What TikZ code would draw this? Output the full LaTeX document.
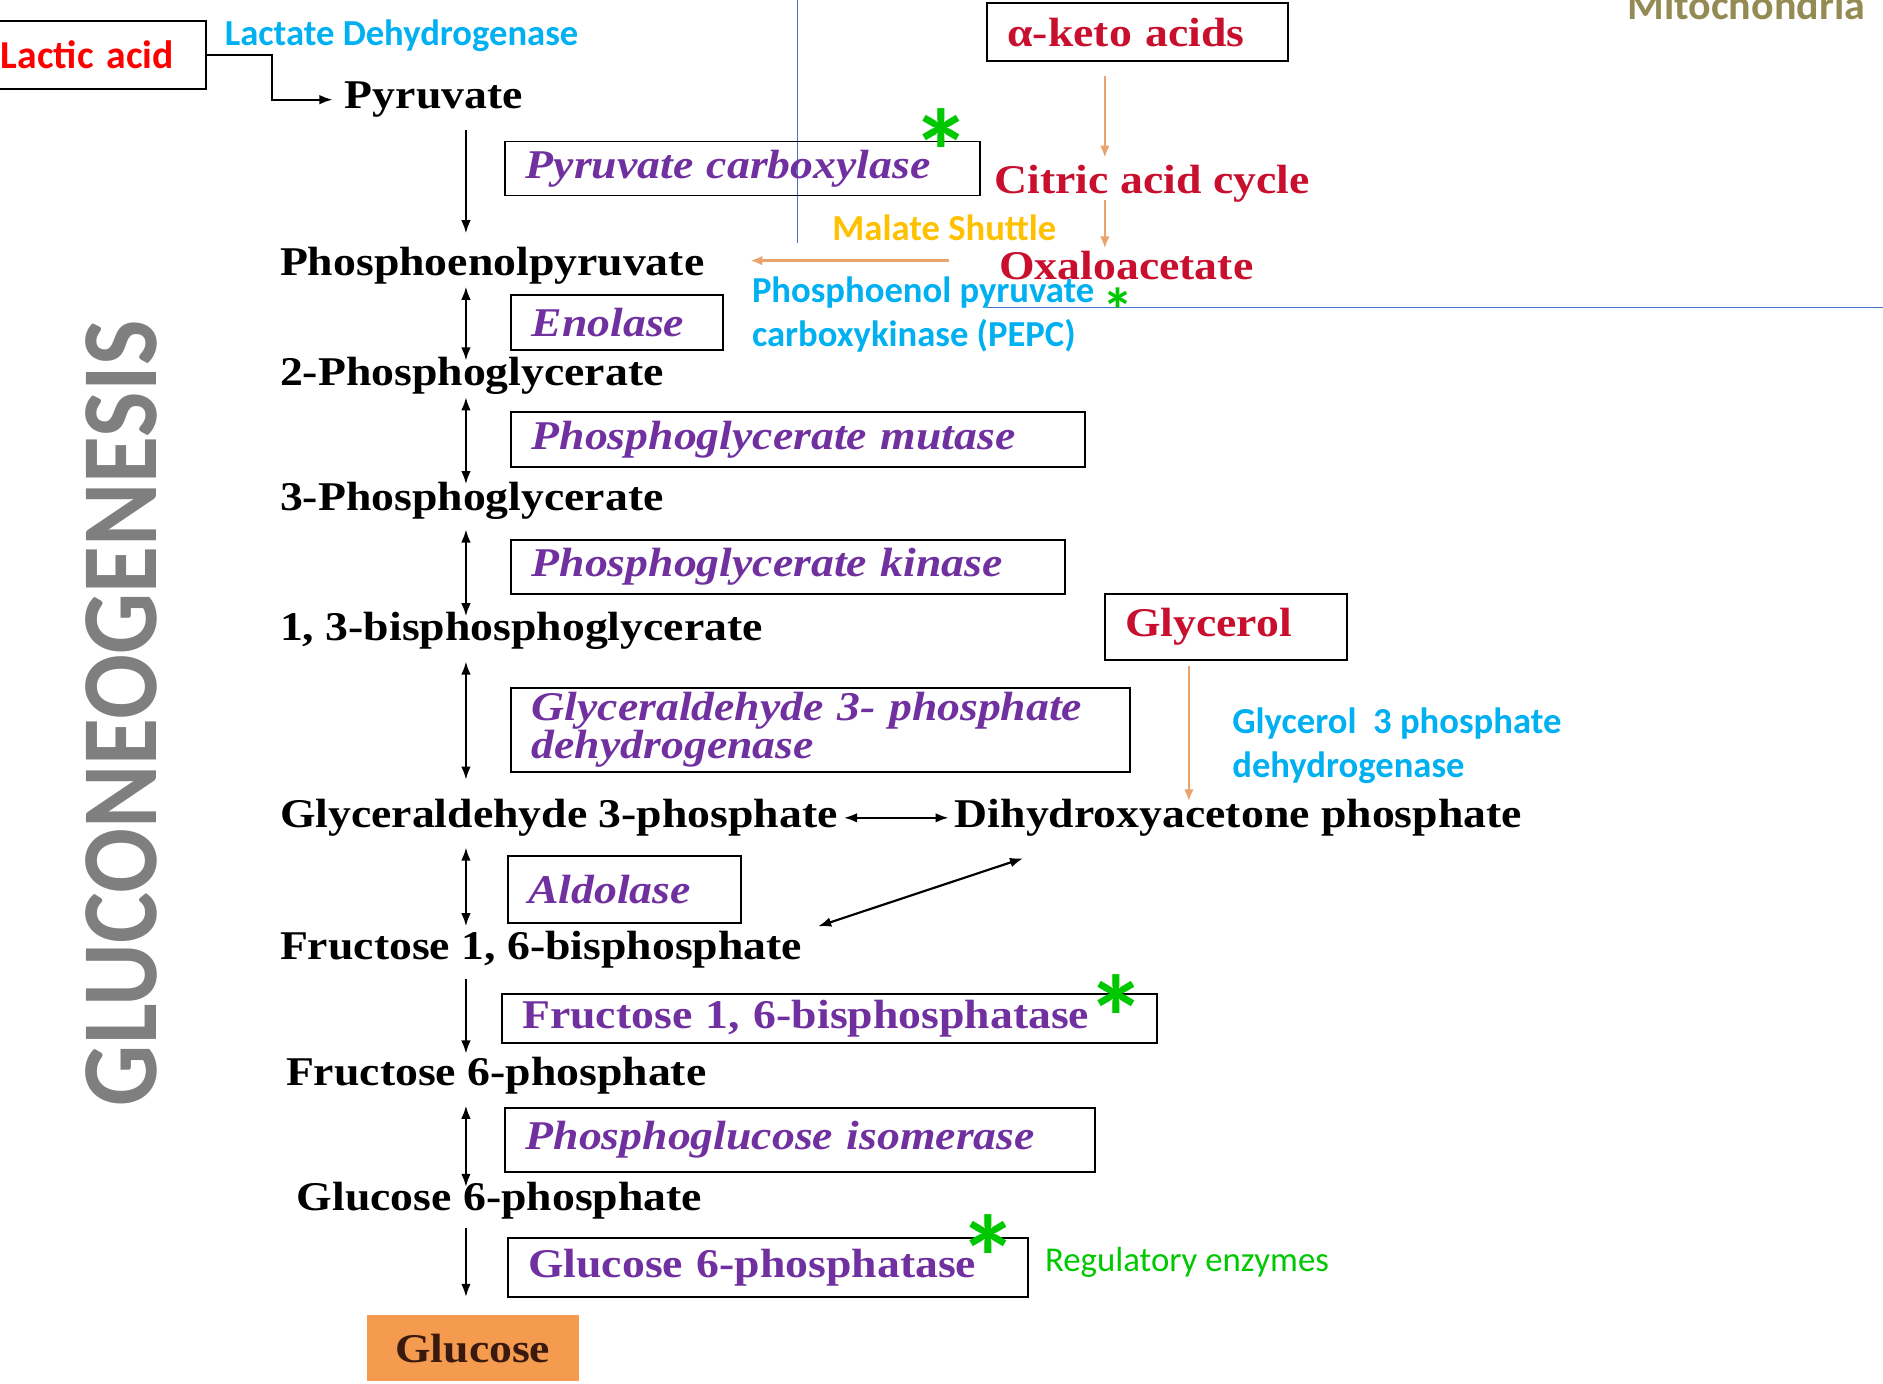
\documentclass[tikz,border=0pt]{standalone}
\usepackage{graphicx}
\usepackage{fontspec}
\usepackage{tikz}
\usetikzlibrary{arrows.meta,positioning,calc}
\setmainfont{Liberation Serif}[FakeStretch=1.12]
\newfontfamily\calfont{Carlito}
\definecolor{enzpurple}{HTML}{7030A0}
\definecolor{deepred}{HTML}{C8102E}
\definecolor{skyblue}{HTML}{00B0F0}
\definecolor{shuttle}{HTML}{FFC000}
\definecolor{reggreen}{HTML}{00C800}
\definecolor{mitoolive}{HTML}{948A54}
\definecolor{titlegray}{HTML}{7F7F7F}
\definecolor{membrane}{HTML}{4472C4}
\definecolor{feedorange}{HTML}{E9A36E}
\definecolor{glucfill}{HTML}{F59B4F}
\definecolor{glucink}{HTML}{3A1A0E}
\tikzset{
  metab/.style={anchor=west, inner sep=2pt,
    font=\bfseries\fontsize{34}{36}\selectfont},
  enzbox/.style={draw, line width=1.6pt, anchor=north west, align=left,
    inner xsep=17pt, inner ysep=0pt, text=enzpurple,
    font=\bfseries\itshape\fontsize{34}{30}\selectfont},
  enzup/.style={enzbox, font=\bfseries\fontsize{34}{30}\selectfont},
  srcbox/.style={draw, line width=1.6pt, anchor=north west, align=left,
    inner xsep=17pt, inner ysep=0pt, text=deepred,
    font=\bfseries\fontsize{34}{36}\selectfont},
  redlabel/.style={anchor=west, inner sep=2pt, text=deepred,
    font=\bfseries\fontsize{34}{36}\selectfont},
  note/.style={anchor=west, align=left, inner sep=0pt,
    font=\calfont\bfseries\fontsize{30.5}{36}\selectfont},
  regstar/.style={text=reggreen, inner sep=0pt,
    font=\calfont\bfseries\fontsize{100}{100}\selectfont},
  arr/.style={-{Latex[length=11pt,width=8pt]}, line width=1.8pt},
  dbl/.style={{Latex[length=11pt,width=8pt]}-{Latex[length=11pt,width=8pt]}, line width=1.8pt},
  oarr/.style={-{Latex[length=10pt,width=8pt]}, draw=feedorange, line width=2.1pt},
  membrane line/.style={draw=membrane, line width=1.4pt}
}
\begin{document}
\begin{tikzpicture}[x=1pt,y=-1pt]
\useasboundingbox (0,0) rectangle (1568,1152);

% side title
\node[rotate=90, text=titlegray, inner sep=0pt,
  font=\calfont\bfseries\fontsize{90}{90}\selectfont] (title) at (101,594)
  {\scalebox{0.89}[1]{GLUCONEOGENESIS}};

% mitochondrial boundary
\coordinate (memtop) at (664,0);
\coordinate (memcorner) at (664,202);
\coordinate (memleft) at (822,256);
\coordinate (memright) at (1568,256);
\draw[membrane line] (memtop) -- (memcorner);
\draw[membrane line] (memleft) -- (memright);
\node[note, text=mitoolive, anchor=base west,
  font=\calfont\bfseries\fontsize{35}{40}\selectfont] (mito) at (1355,16) {Mitochondria};

% entry substrates
\node[draw, line width=1.6pt, anchor=north west, align=left,
  minimum height=56pt, text width=168pt, inner xsep=3pt, text=red,
  font=\calfont\bfseries\fontsize{33}{36}\selectfont] (lactic) at (-3,17) {Lactic acid};
\node[note, text=skyblue] (ldh) at (187,30) {Lactate Dehydrogenase};
\node[srcbox, text width=217pt, minimum height=48pt] (keto) at (821,2) {α-keto acids};
\node[redlabel] (cac) at (826,153) {Citric acid cycle};
\node[redlabel] (oaa) at (830,221) {Oxaloacetate};
\node[note, text=shuttle] (mal) at (693,190) {Malate Shuttle};
\node[note, text=skyblue] (pepck) at (626,262) {Phosphoenol pyruvate\\carboxykinase (PEPC)};
\node[srcbox, text width=168pt, minimum height=55pt] (glyc) at (919,494) {Glycerol};
\node[note, text=skyblue, font=\calfont\bfseries\fontsize{30.5}{37}\selectfont]
  (g3pdh) at (1026,621) {Glycerol\ \ 3 phosphate\\dehydrogenase};

% metabolites
\node[metab] (pyr) at (285,83) {Pyruvate};
\node[metab] (pep) at (231,221) {Phosphoenolpyruvate};
\node[metab] (pg2) at (231,313) {2-Phosphoglycerate};
\node[metab] (pg3) at (231,417) {3-Phosphoglycerate};
\node[metab] (bpg) at (231,525) {1, 3-bisphosphoglycerate};
\node[metab] (g3p) at (231,681) {Glyceraldehyde 3-phosphate};
\node[metab] (dhap) at (793,681) {Dihydroxyacetone phosphate};
\node[metab] (f16bp) at (231,791) {Fructose 1, 6-bisphosphate};
\node[metab] (f6p) at (236,896) {Fructose 6-phosphate};
\node[metab] (g6p) at (245,1000) {Glucose 6-phosphate};
\node[fill=glucfill, anchor=north west, minimum width=177pt, minimum height=55pt,
  text=glucink, font=\bfseries\fontsize{34}{36}\selectfont] (glc) at (305,1095) {Glucose};

% enzymes
\node[enzbox, text width=361pt, minimum height=45pt] (pc) at (420,117) {Pyruvate carboxylase};
\node[enzbox, text width=142pt, minimum height=46pt] (eno) at (425,245) {Enolase};
\node[enzbox, text width=444pt, minimum height=46pt] (pgm) at (425,342) {Phosphoglycerate mutase};
\node[enzbox, text width=427pt, minimum height=45pt] (pgk) at (425,449) {Phosphoglycerate kinase};
\node[enzbox, text width=481pt, minimum height=70pt, yshift=-4pt] (gapdh) at (425,568) {Glyceraldehyde 3- phosphate\\dehydrogenase};
\node[enzbox, text width=160pt, minimum height=56pt] (ald) at (422,712) {Aldolase};
\node[enzup, text width=512pt, minimum height=41pt] (fbp) at (417,827) {Fructose 1, 6-bisphosphatase};
\node[enzbox, text width=457pt, minimum height=53pt] (pgi) at (420,922) {Phosphoglucose isomerase};
\node[enzup, text width=399pt, minimum height=49pt] (gsix) at (422,1030) {Glucose 6-phosphatase};

% regulatory marks
\node[regstar] (s1) at (784,126) {*};
\node[regstar] (s2) at (930,847) {*};
\node[regstar] (s3) at (823,1047) {*};
\node[regstar, font=\calfont\bfseries\fontsize{52}{52}\selectfont] (s4) at (931,258) {*};
\node[note, text=reggreen, font=\calfont\fontsize{29}{34}\selectfont] (reg) at (870,1051) {Regulatory enzymes};

% main chain
\coordinate (ax) at (388,0);
\draw[arr] (lactic.east) -- ++(54,0) |- ([xshift=-8pt]pyr.west);
\draw[arr, shorten <=8pt, shorten >=9pt] (pyr.south -| ax) -- (pep.north -| ax);
\draw[dbl, shorten >=-5pt] (pep.south -| ax) -- (pg2.north -| ax);
\draw[dbl, shorten >=-4pt] (pg2.south -| ax) -- (pg3.north -| ax);
\draw[dbl, shorten <=6pt, shorten >=-6pt] (pg3.south -| ax) -- (bpg.north -| ax);
\draw[dbl, shorten <=8pt, shorten >=14pt] (bpg.south -| ax) -- (g3p.north -| ax);
\draw[dbl, shorten <=7pt, shorten >=2pt] (g3p.south -| ax) -- (f16bp.north -| ax);
\draw[arr, shorten <=7pt, shorten >=1pt] (f16bp.south -| ax) -- (f6p.north -| ax);
\draw[dbl, shorten <=7pt, shorten >=-6pt] (f6p.south -| ax) -- (g6p.north -| ax);
\draw[arr, shorten <=5pt, shorten >=15pt] (g6p.south -| ax) -- (glc.north -| ax);
\draw[dbl, shorten <=3pt, shorten >=3pt] (g3p.east) -- (dhap.west);
\draw[dbl] ([shift={(59,16)}]dhap.south west) -- ([shift={(11,-2)}]f16bp.north east);

% feeder routes
\coordinate (fx) at (920,0);
\coordinate (gx) at (990,0);
\draw[oarr, shorten <=12pt, shorten >=4pt] (keto.south -| fx) -- (cac.north -| fx);
\draw[oarr, shorten <=-4pt] (cac.south -| fx) -- (oaa.north -| fx);
\draw[oarr, shorten <=40pt, shorten >=36pt] ([yshift=4pt]oaa.west) -- ([yshift=4pt]oaa.west -| pep.east);
\draw[oarr, shorten <=4pt, shorten >=-4pt] (glyc.south -| gx) -- (dhap.north -| gx);
\end{tikzpicture}
\end{document}
